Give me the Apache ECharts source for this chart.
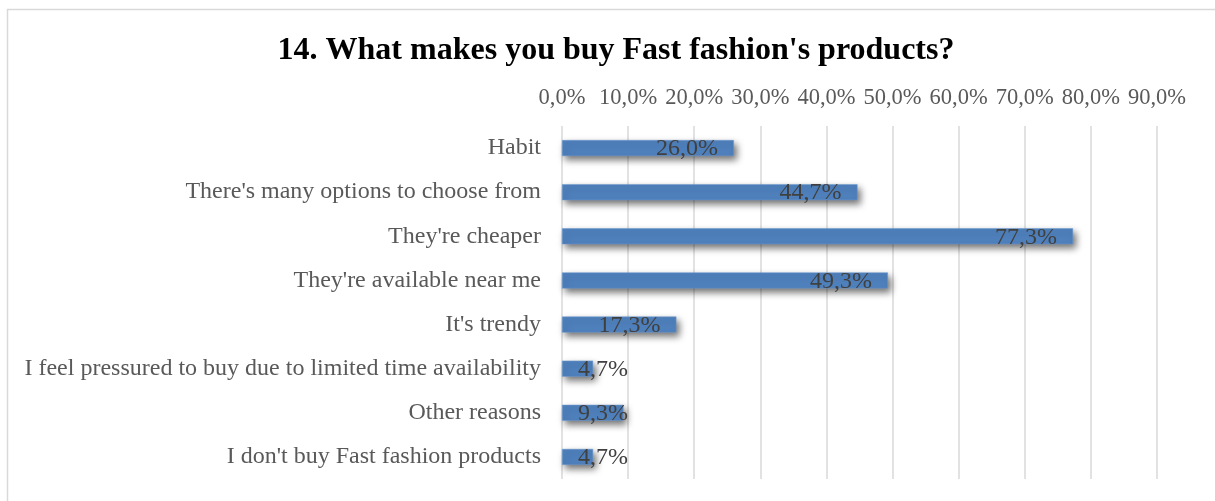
<!DOCTYPE html>
<html>
<head>
<meta charset="utf-8">
<script src="https://cdn.jsdelivr.net/npm/echarts@6/dist/echarts.min.js"></script>
<style>
  html, body { margin: 0; padding: 0; background: #ffffff; }
  #chart { width: 1215px; height: 501px; }
</style>
</head>
<body>
<div id="chart"></div>
<script>
// Reasons for buying fast fashion (share of respondents, %)
const categories = [
  "Habit",
  "There's many options to choose from",
  "They're cheaper",
  "They're available near me",
  "It's trendy",
  "I feel pressured to buy due to limited time availability",
  "Other reasons",
  "I don't buy Fast fashion products"
];
const shares = [26.0, 44.7, 77.3, 49.3, 17.3, 4.7, 9.3, 4.7];
const titleText = "14. What makes you buy Fast fashion's products?";
const axisMax = 90;
const axisStep = 10;

const fmt = v => v.toFixed(1).replace('.', ',') + '%';
const serif = '"Liberation Serif", "Times New Roman", serif';

// Short bars cannot hold their label, so those labels sit from the bar's start
const barData = shares.map(v => ({
  value: v,
  label: v < 12 ? { position: 'insideLeft', distance: 16 } : { position: 'insideRight', distance: 16 }
}));

const chart = echarts.init(document.getElementById('chart'));
chart.setOption({
  animation: false,
  backgroundColor: '#ffffff',
  graphic: [{
    type: 'rect',
    shape: { x: 7.5, y: 9.5, width: 1230, height: 520 },
    style: { fill: 'none', stroke: '#d9d9d9', lineWidth: 1.5 },
    silent: true
  }],
  title: {
    text: titleText,
    left: 611,
    textAlign: 'center',
    top: 30,
    textStyle: { fontFamily: serif, fontWeight: 'bold', fontSize: 32, color: '#000000' }
  },
  grid: { left: 562, right: 58, top: 126, bottom: 22, containLabel: false },
  xAxis: {
    type: 'value',
    position: 'top',
    min: 0,
    max: axisMax,
    interval: axisStep,
    axisLine: { show: false },
    axisTick: { show: false },
    splitLine: { show: true, lineStyle: { color: '#d9d9d9', width: 1.5 } },
    axisLabel: {
      margin: 16,
      fontFamily: serif,
      fontSize: 22.5,
      color: '#595959',
      formatter: v => fmt(v)
    }
  },
  yAxis: {
    type: 'category',
    data: categories,
    inverse: true,
    axisLine: { show: false },
    axisTick: { show: false },
    axisLabel: { margin: 21, fontFamily: serif, fontSize: 24, color: '#595959' }
  },
  series: [{
    type: 'bar',
    data: barData,
    barWidth: 16,
    itemStyle: {
      color: '#4f81bd',
      borderColor: '#6f9bd0',
      borderWidth: 0.5,
      shadowColor: 'rgba(0,0,0,0.55)',
      shadowBlur: 7,
      shadowOffsetX: 3,
      shadowOffsetY: 4
    },
    label: {
      show: true,
      fontFamily: serif,
      fontSize: 24,
      color: '#404040',
      offset: [0, 1],
      formatter: p => fmt(p.value)
    }
  }]
});
</script>
</body>
</html>
